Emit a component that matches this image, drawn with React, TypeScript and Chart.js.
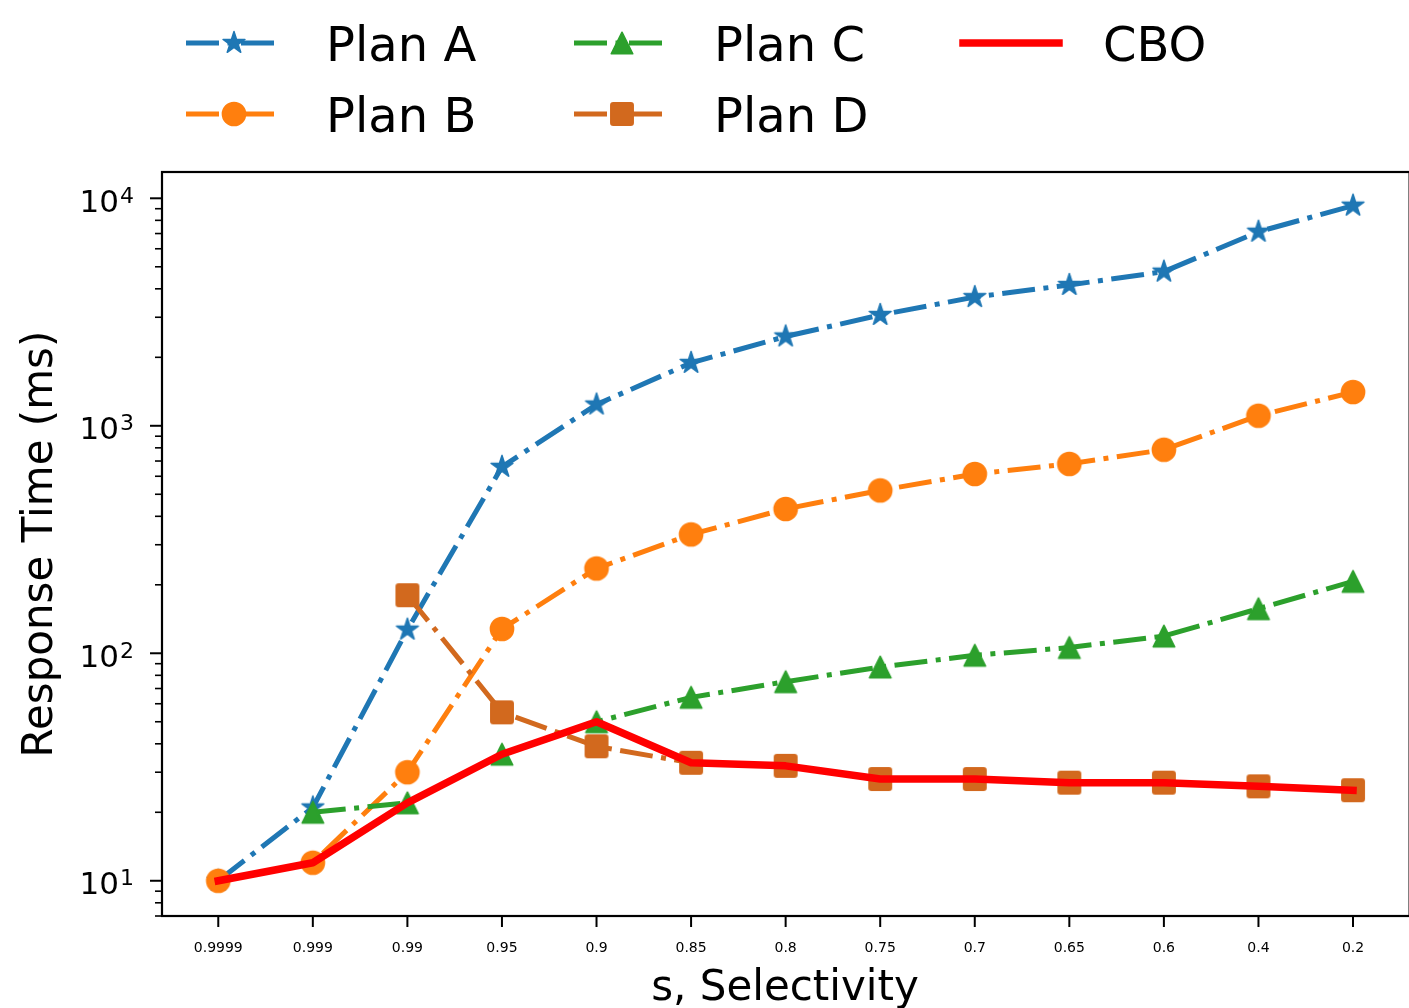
import { useEffect, useRef } from "react";
import { Chart, registerables } from "chart.js";

Chart.register(...registerables);

// Selectivity values along the x axis (one category per measurement)
const selectivity = ["0.9999", "0.999", "0.99", "0.95", "0.9", "0.85", "0.8", "0.75", "0.7", "0.65", "0.6", "0.4", "0.2"];

// Response times in ms; null = plan not available at that selectivity
const planA = [10, 21, 127, 660, 1240, 1890, 2470, 3070, 3680, 4160, 4760, 7130, 9280];
const planB = [10, 12, 30, 128, 236, 333, 431, 520, 614, 680, 785, 1107, 1407];
const planC = [null, 20, 22, 36, 50, 64, 75, 87, 98, 106, 119, 157, 207];
const planD = [null, null, 180, 55, 39, 33, 32, 28, 28, 27, 27, 26, 25];
const cbo = [10, 12, 22, 36, 50, 33, 32, 28, 28, 27, 27, 26, 25];

const yMajorTicks = [10, 100, 1000, 10000];
const Y_MIN = 7.0;
const Y_MAX = 13050;

const FONT = '"DejaVu Sans", "Liberation Sans", sans-serif';
const DASH_DOT = [33, 8.5, 5, 8.5];

type Marker = "star" | "circle" | "triangle" | "square" | "none";
interface Series {
  label: string;
  values: (number | null)[];
  color: string;
  marker: Marker;
  dash: number[];
  width: number;
  order: number;
}

const series: Series[] = [
  { label: "Plan A", values: planA, color: "#1f77b4", marker: "star", dash: DASH_DOT, width: 5, order: 4 },
  { label: "Plan B", values: planB, color: "#ff7f0e", marker: "circle", dash: DASH_DOT, width: 5, order: 3 },
  { label: "Plan C", values: planC, color: "#2ca02c", marker: "triangle", dash: DASH_DOT, width: 5, order: 2 },
  { label: "Plan D", values: planD, color: "#d2691e", marker: "square", dash: DASH_DOT, width: 5, order: 1 },
  { label: "CBO", values: cbo, color: "#ff0000", marker: "none", dash: [], width: 7.5, order: 0 },
];

// Legend grid: column-major, two rows
const legendColumns = [
  { x: 186, items: ["Plan A", "Plan B"] },
  { x: 574, items: ["Plan C", "Plan D"] },
  { x: 963, items: ["CBO"] },
];
const legendRowsY = [43, 114];

function makeMarker(shape: Marker, color: string): HTMLCanvasElement {
  const size = 32;
  const c = document.createElement("canvas");
  c.width = size;
  c.height = size;
  const ctx = c.getContext("2d")!;
  const cx = size / 2;
  const cy = size / 2;
  ctx.fillStyle = color;
  ctx.strokeStyle = color;
  ctx.lineJoin = "round";
  ctx.lineWidth = 1.5;
  ctx.beginPath();
  if (shape === "star") {
    const R = 11.5;
    const r = R * 0.381966;
    for (let i = 0; i < 10; i++) {
      const a = -Math.PI / 2 + (i * Math.PI) / 5;
      const rr = i % 2 === 0 ? R : r;
      const px = cx + rr * Math.cos(a);
      const py = cy + rr * Math.sin(a);
      if (i === 0) ctx.moveTo(px, py);
      else ctx.lineTo(px, py);
    }
  } else if (shape === "circle") {
    ctx.arc(cx, cy, 11.6, 0, Math.PI * 2);
  } else if (shape === "triangle") {
    ctx.moveTo(cx, cy - 10.8);
    ctx.lineTo(cx + 10.8, cy + 10.8);
    ctx.lineTo(cx - 10.8, cy + 10.8);
  } else if (shape === "square") {
    const h = 11.2;
    const rad = 2.5;
    ctx.moveTo(cx - h + rad, cy - h);
    ctx.arcTo(cx + h, cy - h, cx + h, cy + h, rad);
    ctx.arcTo(cx + h, cy + h, cx - h, cy + h, rad);
    ctx.arcTo(cx - h, cy + h, cx - h, cy - h, rad);
    ctx.arcTo(cx - h, cy - h, cx + h, cy - h, rad);
  }
  ctx.closePath();
  ctx.fill();
  ctx.stroke();
  return c;
}

export default function App() {
  const canvasRef = useRef<HTMLCanvasElement | null>(null);

  useEffect(() => {
    document.body.style.margin = "0";
    document.body.style.overflow = "hidden";
    const canvas = canvasRef.current;
    if (!canvas) return;

    const markers: Record<string, HTMLCanvasElement | null> = {};
    series.forEach((s) => {
      markers[s.label] = s.marker === "none" ? null : makeMarker(s.marker, s.color);
    });

    const axesPlugin = {
      id: "axesDecor",
      afterDatasetsDraw(chart: Chart) {
        const ctx = chart.ctx;
        const area = chart.chartArea;
        const xs = chart.scales.x;
        const ys = chart.scales.y;
        ctx.save();
        ctx.strokeStyle = "#000";
        ctx.fillStyle = "#000";

        // frame (right edge sits at the canvas border)
        ctx.lineWidth = 2.2;
        ctx.strokeRect(area.left, area.top, area.right + 0.6 - area.left, area.bottom - area.top);

        // x ticks + labels
        ctx.lineWidth = 2;
        ctx.font = `14px ${FONT}`;
        ctx.textAlign = "center";
        ctx.textBaseline = "alphabetic";
        selectivity.forEach((lab, i) => {
          const px = xs.getPixelForValue(i);
          ctx.beginPath();
          ctx.moveTo(px, area.bottom);
          ctx.lineTo(px, area.bottom + 11);
          ctx.stroke();
          ctx.fillText(lab, px, 952);
        });

        // y minor ticks
        ctx.lineWidth = 1.6;
        for (let e = 0; e <= 4; e++) {
          for (let m = 2; m <= 9; m++) {
            const v = m * Math.pow(10, e);
            if (v < Y_MIN - 1e-9 || v > Y_MAX) continue;
            const py = ys.getPixelForValue(v);
            ctx.beginPath();
            ctx.moveTo(area.left - 7, py);
            ctx.lineTo(area.left, py);
            ctx.stroke();
          }
        }
        // y major ticks + labels (10^n)
        ctx.lineWidth = 2;
        ctx.textAlign = "right";
        yMajorTicks.forEach((v) => {
          const py = ys.getPixelForValue(v);
          ctx.beginPath();
          ctx.moveTo(area.left - 12, py);
          ctx.lineTo(area.left, py);
          ctx.stroke();
          const exp = String(Math.round(Math.log10(v)));
          const right = area.left - 28;
          ctx.font = `22px ${FONT}`;
          const ew = ctx.measureText(exp).width;
          ctx.fillText(exp, right, py + 4.5);
          ctx.font = `31px ${FONT}`;
          ctx.fillText("10", right - ew - 1, py + 13.5);
        });

        // axis titles
        ctx.font = `42px ${FONT}`;
        ctx.textAlign = "center";
        ctx.fillText("s, Selectivity", 785, 1000);
        ctx.save();
        ctx.translate(52, (area.top + area.bottom) / 2);
        ctx.rotate(-Math.PI / 2);
        ctx.fillText("Response Time (ms)", 0, 0);
        ctx.restore();

        ctx.restore();
      },
    };

    const legendPlugin = {
      id: "gridLegend",
      afterDraw(chart: Chart) {
        const ctx = chart.ctx;
        ctx.save();
        legendColumns.forEach((col) => {
          col.items.forEach((name, row) => {
            const s = series.find((d) => d.label === name)!;
            const y = legendRowsY[row];
            const x1 = col.x;
            const x2 = col.x + 96;
            ctx.strokeStyle = s.color;
            ctx.lineWidth = s.width;
            ctx.setLineDash(s.dash);
            ctx.lineCap = s.dash.length ? "butt" : "square";
            ctx.beginPath();
            ctx.moveTo(x1, y);
            ctx.lineTo(x2, y);
            ctx.stroke();
            ctx.setLineDash([]);
            const mk = markers[s.label];
            if (mk) ctx.drawImage(mk, (x1 + x2) / 2 - mk.width / 2, y - mk.height / 2);
            ctx.fillStyle = "#000";
            ctx.font = `48px ${FONT}`;
            ctx.textAlign = "left";
            ctx.textBaseline = "alphabetic";
            ctx.fillText(s.label, x2 + 44, y + 17.5);
          });
        });
        ctx.restore();
      },
    };

    const chart = new Chart(canvas, {
      type: "line",
      data: {
        datasets: series.map((s) => ({
          label: s.label,
          data: s.values
            .map((v, i) => (v === null ? null : { x: i, y: v }))
            .filter((p) => p !== null) as { x: number; y: number }[],
          borderColor: s.color,
          backgroundColor: s.color,
          borderWidth: s.width,
          borderDash: s.dash,
          borderCapStyle: s.dash.length ? "butt" : "square",
          borderJoinStyle: "round",
          tension: 0,
          fill: false,
          order: s.order,
          pointStyle: markers[s.label] ?? "circle",
          pointRadius: s.marker === "none" ? 0 : 12,
          pointHoverRadius: s.marker === "none" ? 0 : 12,
          pointBorderWidth: 0,
        })),
      },
      options: {
        responsive: false,
        animation: false,
        devicePixelRatio: 1,
        layout: { autoPadding: false, padding: { left: 162, right: 0, top: 172, bottom: 92 } },
        scales: {
          x: { type: "linear", min: -0.595, max: 12.592, display: false },
          y: { type: "logarithmic", min: Y_MIN, max: Y_MAX, display: false },
        },
        plugins: {
          legend: { display: false },
          tooltip: { enabled: false },
        },
        events: [],
      },
      plugins: [axesPlugin, legendPlugin],
    });

    return () => chart.destroy();
  }, []);

  return (
    <div style={{ width: 1409, height: 1008, background: "#fff" }}>
      <canvas ref={canvasRef} width={1409} height={1008} style={{ display: "block" }} />
    </div>
  );
}
